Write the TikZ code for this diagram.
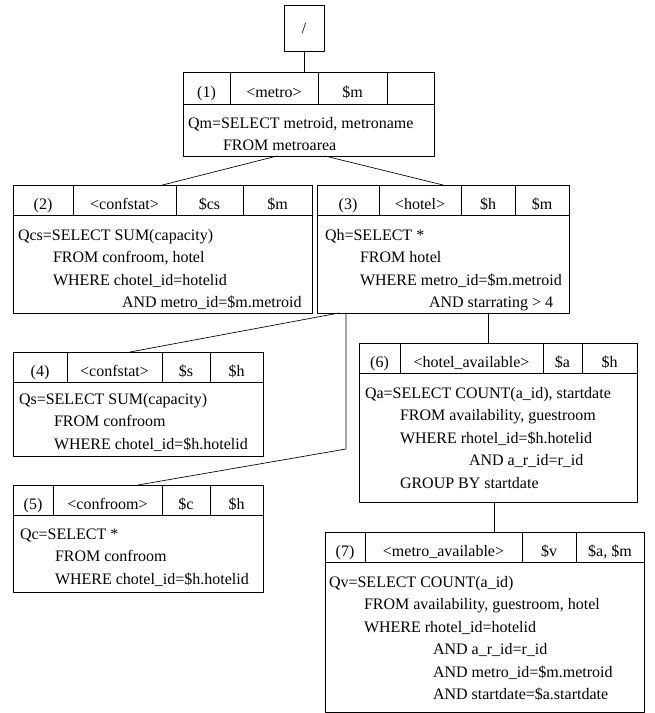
\documentclass[tikz,border=0pt]{standalone}
\usepackage{fontspec}
\setmainfont{Liberation Serif}
\usetikzlibrary{positioning,calc}

\newlength{\pxu}
\setlength{\pxu}{0.75pt}
\newcommand{\qfont}{\fontsize{12pt}{16.875pt}\selectfont}

\begin{document}
\begin{tikzpicture}[
    x={(\pxu,0pt)},
    y={(0pt,-\pxu)},
    line cap=round,
    line join=round,
    qframe/.style={draw,line width=0.6pt,outer sep=0pt,inner sep=0pt,anchor=north west},
    hcell/.style={draw,line width=0.6pt,outer sep=0pt,inner sep=0pt,
        minimum height=\hh*\pxu,text height=14pt,text depth=0pt,font=\qfont},
    qtext/.style={inner sep=0pt,outer sep=0pt,anchor=base west,font=\qfont},
    qlink/.style={line width=0.5pt}
]

% =========================================================
% Параметры
% =========================================================

\def\hh{30}    % высота строки заголовка
\def\ind{35}   % отступ FROM / WHERE
\def\andi{104} % отступ AND

\useasboundingbox (0,0) rectangle (654,713);

% =========================================================
% Корень
% =========================================================

\node[qframe,minimum width=40*\pxu,minimum height=46*\pxu,font=\qfont] (R) at (284,5) {/};

% =========================================================
% Блок (1)
% =========================================================

\node[qframe,minimum width=251*\pxu,minimum height=84*\pxu] (B1) at (183,72) {};
\node[hcell,minimum height=32*\pxu,minimum width=47*\pxu,anchor=north west] (B1a) at (B1.north west) {(1)};
\node[hcell,minimum height=32*\pxu,minimum width=88*\pxu,right=0pt of B1a] (B1b) {<metro>};
\node[hcell,minimum height=32*\pxu,minimum width=69*\pxu,right=0pt of B1b] (B1c) {\$m};
\node[hcell,minimum height=32*\pxu,minimum width=47*\pxu,right=0pt of B1c] (B1d) {};
\node[qtext] (B1q) at ($(B1a.south west)+(5,24)$) {\begin{tabular}[t]{@{}l@{}}
Qm=SELECT metroid, metroname\\
\hspace*{\ind\pxu}FROM metroarea
\end{tabular}};

% =========================================================
% Блок (2)
% =========================================================

\node[qframe,minimum width=299*\pxu,minimum height=128*\pxu] (B2) at (13,185) {};
\node[hcell,minimum width=60*\pxu,anchor=north west] (B2a) at (B2.north west) {(2)};
\node[hcell,minimum width=103*\pxu,right=0pt of B2a] (B2b) {<confstat>};
\node[hcell,minimum width=67*\pxu,right=0pt of B2b] (B2c) {\$cs};
\node[hcell,minimum width=69*\pxu,right=0pt of B2c] (B2d) {\$m};
\node[qtext] (B2q) at ($(B2a.south west)+(5,25)$) {\begin{tabular}[t]{@{}l@{}}
Qcs=SELECT SUM(capacity)\\
\hspace*{\ind\pxu}FROM confroom, hotel\\
\hspace*{\ind\pxu}WHERE chotel\_id=hotelid\\
\hspace*{\andi\pxu}AND metro\_id=\$m.metroid
\end{tabular}};

% =========================================================
% Блок (3)
% =========================================================

\node[qframe,minimum width=252*\pxu,minimum height=128*\pxu] (B3) at (317,185) {};
\node[hcell,minimum width=62*\pxu,anchor=north west] (B3a) at (B3.north west) {(3)};
\node[hcell,minimum width=82*\pxu,right=0pt of B3a] (B3b) {<hotel>};
\node[hcell,minimum width=54*\pxu,right=0pt of B3b] (B3c) {\$h};
\node[hcell,minimum width=54*\pxu,right=0pt of B3c] (B3d) {\$m};
\node[qtext] (B3q) at ($(B3a.south west)+(8,25)$) {\begin{tabular}[t]{@{}l@{}}
Qh=SELECT *\\
\hspace*{\ind\pxu}FROM hotel\\
\hspace*{\ind\pxu}WHERE metro\_id=\$m.metroid\\
\hspace*{\andi\pxu}AND starrating > 4
\end{tabular}};

% =========================================================
% Блок (4)
% =========================================================

\node[qframe,minimum width=250*\pxu,minimum height=104*\pxu] (B4) at (13,352) {};
\node[hcell,minimum width=54*\pxu,anchor=north west] (B4a) at (B4.north west) {(4)};
\node[hcell,minimum width=95*\pxu,right=0pt of B4a] (B4b) {<confstat>};
\node[hcell,minimum width=48*\pxu,right=0pt of B4b] (B4c) {\$s};
\node[hcell,minimum width=53*\pxu,right=0pt of B4c] (B4d) {\$h};
\node[qtext] (B4q) at ($(B4a.south west)+(6,22)$) {\begin{tabular}[t]{@{}l@{}}
Qs=SELECT SUM(capacity)\\
\hspace*{\ind\pxu}FROM confroom\\
\hspace*{\ind\pxu}WHERE chotel\_id=\$h.hotelid
\end{tabular}};

% =========================================================
% Блок (5)
% =========================================================

\node[qframe,minimum width=250*\pxu,minimum height=107*\pxu] (B5) at (13,485) {};
\node[hcell,minimum width=40*\pxu,anchor=north west] (B5a) at (B5.north west) {(5)};
\node[hcell,minimum width=109*\pxu,right=0pt of B5a] (B5b) {<confroom>};
\node[hcell,minimum width=48*\pxu,right=0pt of B5b] (B5c) {\$c};
\node[hcell,minimum width=53*\pxu,right=0pt of B5c] (B5d) {\$h};
\node[qtext] (B5q) at ($(B5a.south west)+(7,24)$) {\begin{tabular}[t]{@{}l@{}}
Qc=SELECT *\\
\hspace*{\ind\pxu}FROM confroom\\
\hspace*{\ind\pxu}WHERE chotel\_id=\$h.hotelid
\end{tabular}};

% =========================================================
% Блок (6)
% =========================================================

\node[qframe,minimum width=278*\pxu,minimum height=159*\pxu] (B6) at (359,343) {};
\node[hcell,minimum width=41*\pxu,anchor=north west] (B6a) at (B6.north west) {(6)};
\node[hcell,minimum width=143*\pxu,right=0pt of B6a] (B6b) {<hotel\_available>};
\node[hcell,minimum width=39*\pxu,right=0pt of B6b] (B6c) {\$a};
\node[hcell,minimum width=55*\pxu,right=0pt of B6c] (B6d) {\$h};
\node[qtext] (B6q) at ($(B6a.south west)+(6,25)$) {\begin{tabular}[t]{@{}l@{}}
Qa=SELECT COUNT(a\_id), startdate\\
\hspace*{\ind\pxu}FROM availability, guestroom\\
\hspace*{\ind\pxu}WHERE rhotel\_id=\$h.hotelid\\
\hspace*{\andi\pxu}AND a\_r\_id=r\_id\\
\hspace*{\ind\pxu}GROUP BY startdate
\end{tabular}};

% =========================================================
% Блок (7)
% =========================================================

\node[qframe,minimum width=319*\pxu,minimum height=180*\pxu] (B7) at (325,532) {};
\node[hcell,minimum width=40*\pxu,anchor=north west] (B7a) at (B7.north west) {(7)};
\node[hcell,minimum width=157*\pxu,right=0pt of B7a] (B7b) {<metro\_available>};
\node[hcell,minimum width=54*\pxu,right=0pt of B7b] (B7c) {\$v};
\node[hcell,minimum width=68*\pxu,right=0pt of B7c] (B7d) {\$a, \$m};
\node[qtext] (B7q) at ($(B7a.south west)+(4,25)$) {\begin{tabular}[t]{@{}l@{}}
Qv=SELECT COUNT(a\_id)\\
\hspace*{\ind\pxu}FROM availability, guestroom, hotel\\
\hspace*{\ind\pxu}WHERE rhotel\_id=hotelid\\
\hspace*{\andi\pxu}AND a\_r\_id=r\_id\\
\hspace*{\andi\pxu}AND metro\_id=\$m.metroid\\
\hspace*{\andi\pxu}AND startdate=\$a.startdate
\end{tabular}};

% =========================================================
% Точки присоединения связей
% =========================================================

\coordinate (B1s2) at ($(B1.south west)+(94,0)$);
\coordinate (B1s3) at ($(B1.south west)+(142,0)$);
\coordinate (B3s4) at ($(B3.south west)+(22,0)$);
\coordinate (B3s5) at ($(B3.south west)+(29,0)$);
\coordinate (B3s6) at ($(B3.south west)+(171,0)$);
\coordinate (B4n)  at ($(B4.north west)+(117,0)$);
\coordinate (K5)   at ($(B3s5)+(0,136)$);
\coordinate (B6s7) at ($(B6.south west)+(135,0)$);

% =========================================================
% Связи
% =========================================================

\draw[qlink] (R.south) -- (R.south |- B1.north);
\draw[qlink] (B1s2) -- (B2.north);
\draw[qlink] (B1s3) -- (B3.north);
\draw[qlink] (B3s4) -- (B4n);
\draw[qlink] (B3s5) -- (K5) -- (B5.north);
\draw[qlink] (B3s6) -- (B3s6 |- B6.north);
\draw[qlink] (B6s7) -- (B6s7 |- B7.north);

\end{tikzpicture}
\end{document}
